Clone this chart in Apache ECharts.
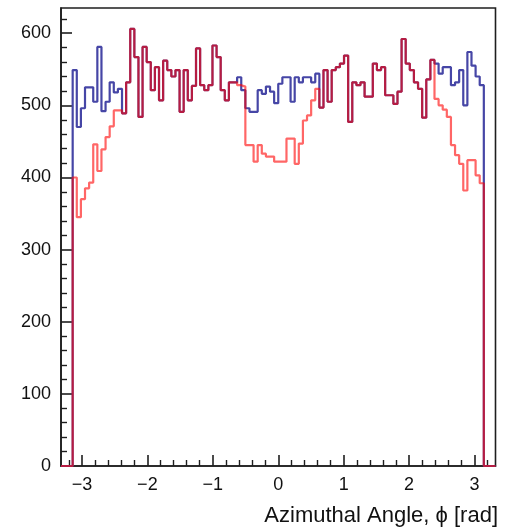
<!DOCTYPE html>
<html>
<head>
<meta charset="utf-8">
<script src="https://cdn.jsdelivr.net/npm/echarts@6/dist/echarts.min.js"></script>
<style>
  html, body { margin: 0; padding: 0; background: #ffffff; }
  #chart { width: 521px; height: 532px; }
</style>
</head>
<body>
<div id="chart"></div>
<script>
// Histogram range: 100 equal bins over [-pi, pi]
const phiLow = -Math.PI;
const phiHigh = Math.PI;

// Visible axis window
const axisMinX = -3.32;
const axisMaxX = 3.32;
const axisMaxY = 635;

// Entries per bin, blue histogram
const blueCounts = [
  549, 470, 496, 525, 525, 505, 581, 492, 505, 532,
  518, 523, 489, 532, 606, 567, 484, 581, 560, 521,
  553, 507, 562, 549, 540, 549, 491, 549, 507, 527,
  579, 528, 521, 528, 583, 567, 521, 507, 532, 532,
  539, 521, 496, 491, 491, 521, 516, 526, 519, 503,
  530, 539, 539, 505, 539, 532, 539, 539, 532, 544,
  497, 549, 505, 549, 553, 558, 569, 477, 532, 528,
  532, 512, 512, 558, 549, 553, 514, 514, 502, 519,
  592, 558, 549, 532, 523, 483, 536, 563, 558, 544,
  553, 553, 528, 532, 549, 500, 574, 555, 540, 528
];

// Entries per bin, red histogram
const redCounts = [
  400, 345, 370, 385, 393, 446, 409, 439, 456, 471,
  493, 493, 489, 532, 606, 567, 484, 581, 560, 521,
  553, 507, 562, 549, 540, 549, 491, 549, 507, 527,
  579, 528, 521, 528, 583, 567, 521, 507, 532, 532,
  528, 526, 445, 445, 422, 445, 433, 429, 429, 422,
  422, 422, 454, 454, 419, 447, 479, 486, 507, 523,
  497, 549, 505, 549, 553, 558, 569, 477, 532, 528,
  532, 512, 512, 558, 549, 553, 514, 514, 502, 519,
  592, 558, 549, 532, 523, 483, 536, 563, 509, 500,
  494, 484, 445, 431, 419, 382, 424, 424, 403, 392
];

// Tick positions
const xMajorTicks = [-3, -2, -1, 0, 1, 2, 3];
const yMajorTicks = [0, 100, 200, 300, 400, 500, 600];
const xMinorTicks = [];
for (let k = -16; k <= 16; k++) { if (k % 5 !== 0) xMinorTicks.push(k / 5); }
const yMinorTicks = [];
for (let v = 20; v < axisMaxY; v += 20) { if (v % 100 !== 0) yMinorTicks.push(v); }

// Outline of a histogram as step vertices, running along zero outside the bin range
function histogramOutline(counts) {
  const width = (phiHigh - phiLow) / counts.length;
  const pts = [[axisMinX, 0], [phiLow, 0]];
  counts.forEach((c, i) => pts.push([phiLow + i * width, c]));
  pts.push([phiHigh, 0]);
  pts.push([axisMaxX, 0]);
  return pts;
}

const inkColor = '#1e1e1e';
const fontStack = 'Liberation Sans, Arial, Helvetica, sans-serif';
const labelFont = { fontFamily: fontStack, fontSize: 18, color: '#111111' };

const chart = echarts.init(document.getElementById('chart'), null, { renderer: 'canvas' });

chart.setOption({
  animation: false,
  backgroundColor: '#ffffff',
  grid: {
    show: true,
    left: 61, right: 25.5, top: 8, bottom: 66,
    borderColor: inkColor, borderWidth: 1.6,
    backgroundColor: 'transparent'
  },
  xAxis: [
    {
      type: 'value', position: 'bottom', min: axisMinX, max: axisMaxX,
      axisLine: { show: true, onZero: false, lineStyle: { color: inkColor, width: 1.6 } },
      axisTick: { show: true, inside: true, length: 11, customValues: xMajorTicks,
                  lineStyle: { color: inkColor, width: 1.6 } },
      axisLabel: Object.assign({ show: true, margin: 10, customValues: xMajorTicks,
                  formatter: v => String(v).replace('-', '\u2212') }, labelFont),
      splitLine: { show: false }
    },
    {
      type: 'value', position: 'bottom', min: axisMinX, max: axisMaxX,
      axisLine: { show: false, onZero: false },
      axisTick: { show: true, inside: true, length: 6, customValues: xMinorTicks,
                  lineStyle: { color: inkColor, width: 1.4 } },
      axisLabel: { show: false },
      splitLine: { show: false }
    }
  ],
  yAxis: [
    {
      type: 'value', position: 'left', min: 0, max: axisMaxY,
      axisLine: { show: true, onZero: false, lineStyle: { color: inkColor, width: 1.6 } },
      axisTick: { show: true, inside: true, length: 11, customValues: yMajorTicks,
                  lineStyle: { color: inkColor, width: 1.6 } },
      axisLabel: Object.assign({ show: true, margin: 10, customValues: yMajorTicks }, labelFont),
      splitLine: { show: false }
    },
    {
      type: 'value', position: 'left', min: 0, max: axisMaxY,
      axisLine: { show: false, onZero: false },
      axisTick: { show: true, inside: true, length: 6, customValues: yMinorTicks,
                  lineStyle: { color: inkColor, width: 1.4 } },
      axisLabel: { show: false },
      splitLine: { show: false }
    }
  ],
  graphic: [
    {
      type: 'text', right: 23, top: 505,
      style: {
        text: 'Azimuthal Angle, \u03D5 [rad]',
        fontFamily: fontStack,
        fontSize: 22, fill: '#111111'
      }
    }
  ],
  series: [
    {
      name: 'blue', type: 'line', step: 'end', showSymbol: false, symbol: 'none',
      xAxisIndex: 0, yAxisIndex: 0, z: 3,
      lineStyle: { color: '#4646a6', width: 2.2 },
      data: histogramOutline(blueCounts)
    },
    {
      name: 'red', type: 'line', step: 'end', showSymbol: false, symbol: 'none',
      xAxisIndex: 0, yAxisIndex: 0, z: 4,
      lineStyle: { color: 'rgba(255, 0, 0, 0.6)', width: 2.2 },
      data: histogramOutline(redCounts)
    }
  ]
});
</script>
</body>
</html>
